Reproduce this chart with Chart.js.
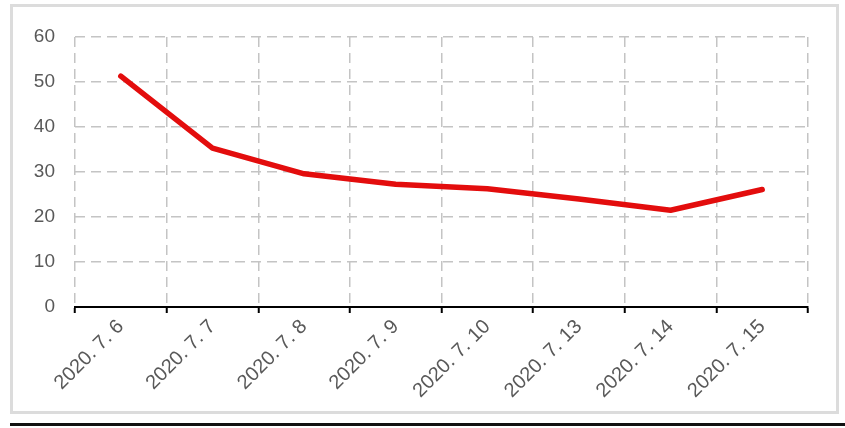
<!DOCTYPE html>
<html>
<head>
<meta charset="utf-8">
<script src="https://cdn.jsdelivr.net/npm/chart.js@4.4.0/dist/chart.umd.min.js"></script>
<style>
  html, body { margin: 0; padding: 0; background: #fff; }
  #wrap { position: relative; width: 845px; height: 428px; overflow: hidden; }
  #frame { position: absolute; left: 10px; top: 4px; width: 823px; height: 404px; border: 3px solid #dcdcdc; }
  #rule { position: absolute; left: 10px; top: 423px; width: 835px; height: 3px; background: #111; }
  canvas { position: absolute; left: 0; top: 0; }
</style>
</head>
<body>
<div id="wrap">
  <div id="frame"></div>
  <div id="rule"></div>
  <canvas id="chart" width="845" height="428"></canvas>
</div>
<script>
  // categories (dates) and values
  const dates  = ["2020. 7. 6", "2020. 7. 7", "2020. 7. 8", "2020. 7. 9",
                  "2020. 7. 10", "2020. 7. 13", "2020. 7. 14", "2020. 7. 15"];
  const values = [51.3, 35.3, 29.6, 27.3, 26.3, 24.0, 21.5, 26.1];
  const yTicks = [0, 10, 20, 30, 40, 50, 60];

  const GRID = "#c4c4c4";
  const DASH = [10, 6];
  const FAMILY = "'Liberation Sans', Arial, sans-serif";

  new Chart(document.getElementById("chart").getContext("2d"), {
    type: "line",
    data: {
      labels: dates,
      datasets: [{
        data: values,
        borderColor: "#e30d0d",
        borderWidth: 5.5,
        pointRadius: 0,
        tension: 0,
        borderCapStyle: "round",
        borderJoinStyle: "round",
      }],
    },
    options: {
      responsive: false,
      animation: false,
      layout: { padding: { left: 0, top: 37, right: 37, bottom: 0 } },
      plugins: { legend: { display: false }, tooltip: { enabled: false } },
      scales: {
        x: {
          offset: true,
          grid: {
            offset: true,
            color: GRID,
            lineWidth: 1.5,
            tickColor: "#000",
            tickLength: 6,
            tickWidth: 2,
            tickBorderDash: [],
          },
          border: { display: true, color: "#000", width: 2, dash: DASH, z: 1 },
          ticks: {
            color: "#595959",
            font: { family: FAMILY, size: 20 },
            minRotation: 45,
            maxRotation: 45,
            padding: 2,
          },
          afterFit: (s) => { s.height = 121; },
        },
        y: {
          min: 0,
          max: 60,
          afterBuildTicks: (s) => { s.ticks = yTicks.map((v) => ({ value: v })); },
          grid: { color: GRID, lineWidth: 1.5, drawTicks: false },
          border: { display: false, dash: DASH },
          ticks: { color: "#595959", font: { family: FAMILY, size: 19 }, padding: 20 },
          afterFit: (s) => { s.width = 75; },
        },
      },
    },
  });
</script>
</body>
</html>
